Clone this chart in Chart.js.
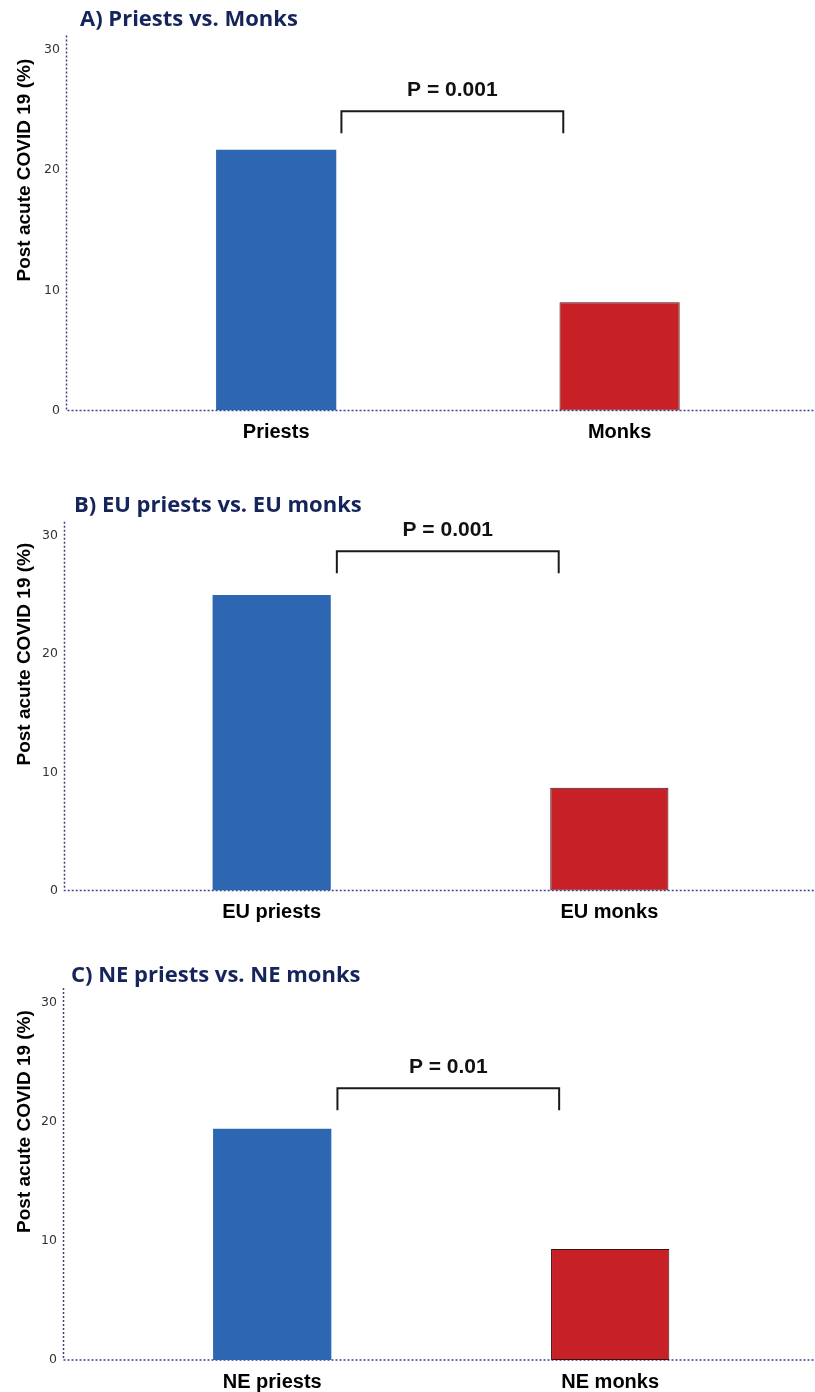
<!DOCTYPE html>
<html>
<head>
<meta charset="utf-8">
<script src="https://cdn.jsdelivr.net/npm/chart.js@4.4.1/dist/chart.umd.min.js"></script>
<style>
  html, body { margin: 0; padding: 0; background: #fff; overflow: hidden; width: 815px; height: 1392px; }
  canvas { position: absolute; left: 0; }
</style>
</head>
<body>
<canvas id="chartA" width="815" height="470" style="top:0px"></canvas>
<canvas id="chartB" width="815" height="470" style="top:470px"></canvas>
<canvas id="chartC" width="815" height="452" style="top:940px"></canvas>
<script>
// ---- data ----
const panelTitles = ['A) Priests vs. Monks', 'B) EU priests vs. EU monks', 'C) NE priests vs. NE monks'];
const categoriesA = ['Priests', 'Monks'];
const categoriesB = ['EU priests', 'EU monks'];
const categoriesC = ['NE priests', 'NE monks'];
const valuesA = [21.7, 9.0];
const valuesB = [25.0, 8.7];
const valuesC = [19.4, 9.3];
const pValueLabels = ['P = 0.001', 'P = 0.001', 'P = 0.01'];
const yTickValues = [0, 10, 20, 30];
const yAxisTitle = 'Post acute COVID 19 (%)';

// ---- styling ----
const BLUE = '#2e67b1';
const RED = '#c82027';
const RED_EDGE = '#3a1212';
const AXIS = '#3e3e86';
const NAVY = '#15245b';

// panel layout: canvas id, canvas top, plot top/bottom/left (page px), x range, bracket placement
const panels = [
  { id: 'chartA', top: 0,   height: 470, plotTop: 35.5,  plotBottom: 410.5, plotLeft: 66,
    xMin: -0.612, xMax: 1.569, titleDx: 14, titleDy: 16,
    bracketFrom: 0.19, bracketTo: 0.836, bracketLevel: 24.9 },
  { id: 'chartB', top: 470, height: 470, plotTop: 521.7, plotBottom: 890.5, plotLeft: 64,
    xMin: -0.615, xMax: 1.609, titleDx: 10, titleDy: 16,
    bracketFrom: 0.193, bracketTo: 0.85, bracketLevel: 28.7 },
  { id: 'chartC', top: 940, height: 452, plotTop: 988,   plotBottom: 1360,  plotLeft: 63,
    xMin: -0.619, xMax: 1.606, titleDx: 8, titleDy: 12.5,
    bracketFrom: 0.193, bracketTo: 0.849, bracketLevel: 22.8 }
];
const categorySets = [categoriesA, categoriesB, categoriesC];
const valueSets = [valuesA, valuesB, valuesC];

// dotted axis lines along the left and bottom of the plot area
const dottedAxes = {
  id: 'dottedAxes',
  beforeDatasetsDraw(chart) {
    const { ctx, chartArea: a } = chart;
    ctx.save();
    ctx.strokeStyle = AXIS;
    ctx.lineWidth = 1.5;
    ctx.setLineDash([2, 2]);
    ctx.beginPath();
    ctx.moveTo(a.left + 0.5, a.top);
    ctx.lineTo(a.left + 0.5, a.bottom);
    ctx.lineTo(a.right, a.bottom);
    ctx.stroke();
    ctx.restore();
  }
};

// panel title, rotated y title, significance bracket and p-value
const panelDecor = {
  id: 'panelDecor',
  afterDraw(chart, args, o) {
    const { ctx, chartArea, scales: { x, y } } = chart;
    ctx.save();
    ctx.fillStyle = NAVY;
    ctx.font = '700 22px "Open Sans"';
    ctx.textAlign = 'left';
    ctx.textBaseline = 'middle';
    ctx.fillText(o.title, chartArea.left + o.titleDx, chartArea.top - o.titleDy);

    const cy = chartArea.top + (chartArea.bottom - chartArea.top) * 0.359;
    ctx.save();
    ctx.translate(29.5, cy);
    ctx.rotate(-Math.PI / 2);
    ctx.fillStyle = '#000';
    ctx.font = '700 19px "Liberation Sans"';
    ctx.textAlign = 'center';
    ctx.textBaseline = 'alphabetic';
    ctx.fillText(o.yTitle, 0, 0);
    ctx.restore();

    const x1 = x.getPixelForValue(o.from);
    const x2 = x.getPixelForValue(o.to);
    const yTop = y.getPixelForValue(o.level);
    const yBot = yTop + 22;
    ctx.beginPath();
    ctx.moveTo(x1, yBot);
    ctx.lineTo(x1, yTop);
    ctx.lineTo(x2, yTop);
    ctx.lineTo(x2, yBot);
    ctx.lineWidth = 2;
    ctx.strokeStyle = '#1a1a1a';
    ctx.stroke();

    ctx.fillStyle = '#111';
    ctx.font = '700 21px "Liberation Sans"';
    ctx.textAlign = 'center';
    ctx.textBaseline = 'middle';
    ctx.fillText(o.pLabel, (x1 + x2) / 2, yTop - 21);
    ctx.restore();
  }
};

panels.forEach((p, k) => {
  const cats = categorySets[k];
  const vals = valueSets[k];
  const xAxisHeight = p.top + p.height - p.plotBottom;
  new Chart(document.getElementById(p.id), {
    type: 'bar',
    data: {
      datasets: [{
        data: vals.map((v, i) => ({ x: i, y: v })),
        backgroundColor: [BLUE, RED],
        borderColor: [BLUE, RED_EDGE],
        borderWidth: [0, 1],
        borderSkipped: false,
        barPercentage: 0.35,
        categoryPercentage: 1
      }]
    },
    options: {
      responsive: false,
      animation: false,
      layout: { padding: { top: p.plotTop - p.top, left: 0, right: 0, bottom: 0 } },
      plugins: {
        legend: { display: false },
        tooltip: { enabled: false },
        title: { display: false },
        panelDecor: {
          title: panelTitles[k], titleDx: p.titleDx, titleDy: p.titleDy,
          yTitle: yAxisTitle, pLabel: pValueLabels[k],
          from: p.bracketFrom, to: p.bracketTo, level: p.bracketLevel
        }
      },
      scales: {
        x: {
          type: 'linear',
          offset: false,
          min: p.xMin,
          max: p.xMax,
          grid: { display: false, drawTicks: false },
          border: { display: false },
          afterBuildTicks: (s) => { s.ticks = cats.map((_, i) => ({ value: i })); },
          afterFit: (s) => { s.height = xAxisHeight; },
          ticks: {
            autoSkip: false, maxRotation: 0, padding: 10,
            color: '#000',
            font: { family: 'Liberation Sans', size: 20, weight: '700' },
            callback: (v) => cats[v]
          }
        },
        y: {
          min: 0,
          max: 31.2,
          grid: { display: false, drawTicks: false },
          border: { display: false },
          afterBuildTicks: (s) => { s.ticks = yTickValues.map(v => ({ value: v })); },
          afterFit: (s) => { s.width = p.plotLeft; },
          ticks: {
            padding: 6,
            color: '#333',
            font: { family: 'DejaVu Sans', size: 12.5 }
          }
        }
      }
    },
    plugins: [dottedAxes, panelDecor]
  });
});
</script>
</body>
</html>
